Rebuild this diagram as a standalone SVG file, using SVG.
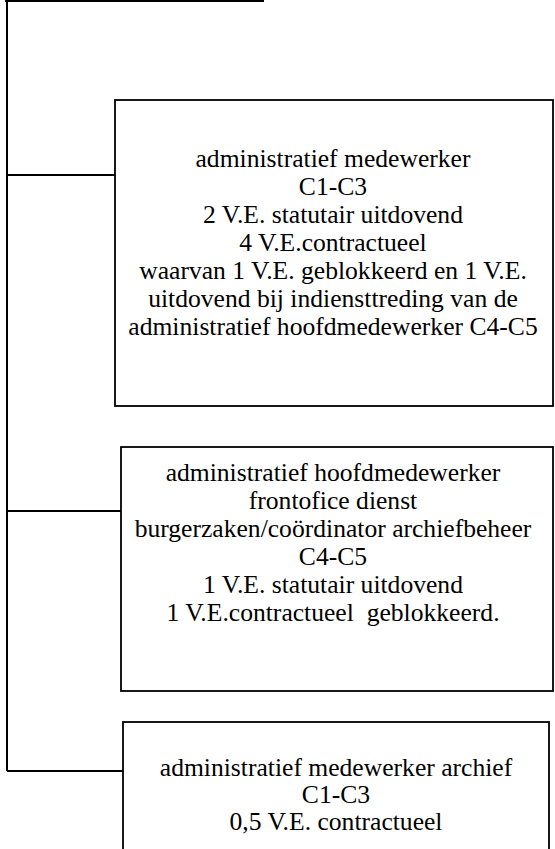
<svg xmlns="http://www.w3.org/2000/svg" width="555" height="849" viewBox="0 0 555 849">
<style>
.bx{fill:#fff;stroke:#000;stroke-width:1.8}
.ln{fill:none;stroke:#000;stroke-width:2}
.t{font-family:"Liberation Serif","Times New Roman",serif;font-size:25.6px;fill:#000;text-anchor:middle}
</style>
<rect width="555" height="849" fill="#fff"/>
<g id="connectors">
<path class="ln" d="M5 1H264M7 0V771M7 175H115M7 511H121M7 771H123"/>
</g>
<g id="box1">
<rect class="bx" x="115" y="100" width="438" height="306"/>
<text class="t" x="333" y="167">administratief medewerker</text>
<text class="t" x="333" y="195">C1-C3</text>
<text class="t" x="333" y="223">2 V.E. statutair uitdovend</text>
<text class="t" x="333" y="251">4 V.E.contractueel</text>
<text class="t" x="333" y="279">waarvan 1 V.E. geblokkeerd en 1 V.E.</text>
<text class="t" x="333" y="307">uitdovend bij indiensttreding van de</text>
<text class="t" x="333" y="335">administratief hoofdmedewerker C4-C5</text>
</g>
<g id="box2">
<rect class="bx" x="121" y="447" width="432" height="244"/>
<text class="t" x="333" y="481">administratief hoofdmedewerker</text>
<text class="t" x="333" y="509">frontofice dienst</text>
<text class="t" x="333" y="537">burgerzaken/coördinator archiefbeheer</text>
<text class="t" x="333" y="565">C4-C5</text>
<text class="t" x="333" y="593">1 V.E. statutair uitdovend</text>
<text class="t" x="333" y="621" xml:space="preserve" style="white-space:pre">1 V.E.contractueel  geblokkeerd.</text>
</g>
<g id="box3">
<rect class="bx" x="123" y="722" width="426" height="140"/>
<text class="t" x="336" y="776">administratief medewerker archief</text>
<text class="t" x="336" y="803">C1-C3</text>
<text class="t" x="336" y="830">0,5 V.E. contractueel</text>
</g>
</svg>
